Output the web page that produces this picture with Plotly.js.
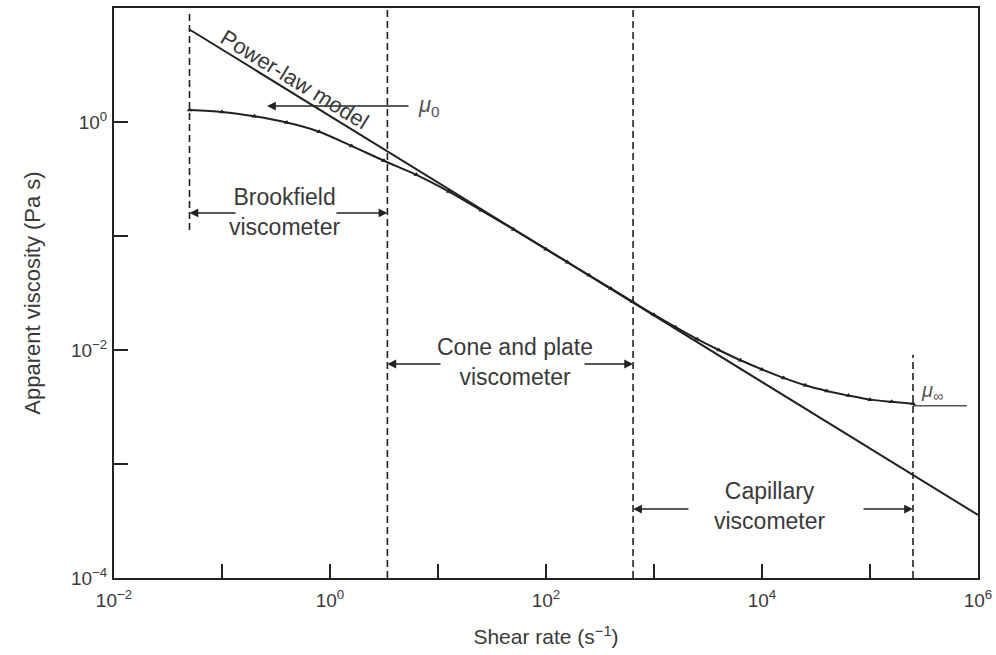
<!DOCTYPE html>
<html>
<head>
<meta charset="utf-8">
<script src="https://cdn.plot.ly/plotly-3.0.1.min.js"></script>
<style>html,body{margin:0;padding:0;background:#fff;}#chart{width:996px;height:655px;}</style>
</head>
<body>
<div id="chart"></div>
<script>
// Measured flow curve (shear rate in 1/s, apparent viscosity in Pa s)
const shearRate = [0.0501, 0.1, 0.1995, 0.398, 0.794, 1.585, 3.16, 6.31, 12.6, 25.1, 50.1, 100, 158, 251, 398, 631, 1000, 1585, 2512, 3981, 6310, 10000, 15850, 25120, 39810, 63100, 100000, 158500, 251200];
const viscosity = [1.274, 1.225, 1.122, 0.989, 0.822, 0.617, 0.457, 0.344, 0.2455, 0.168, 0.114, 0.0767, 0.0589, 0.0452, 0.0347, 0.0266, 0.0204, 0.01585, 0.01245, 0.0100, 0.00813, 0.00676, 0.00569, 0.0049, 0.00437, 0.00398, 0.00367, 0.00351, 0.00338];

// Power-law model line
const powerLawRate = [0.05, 1e6];
const powerLawVisc = [6.48, 3.57e-4];

// Infinite-shear viscosity plateau
const muInfRate = [2.5e5, 7.9e5];
const muInfVisc = [0.00325, 0.00325];

// Instrument range boundaries (shear rate)
const boundaryRates = [0.05, 3.4, 640, 2.5e5];

// Axis ticks
const xTickVals = [0.01, 1, 100, 10000, 1000000];
const xTickText = ['10<sup>−2</sup>', '10<sup>0</sup>', '10<sup>2</sup>', '10<sup>4</sup>', '10<sup>6</sup>'];
const xMinorVals = [0.1, 10, 1000, 100000];
const yTickVals = [0.0001, 0.01, 1];
const yTickText = ['10<sup>−4</sup>', '10<sup>−2</sup>', '10<sup>0</sup>'];
const yMinorVals = [0.001, 0.1];

const L = Math.log10;
const ink = '#222';
const txt = '#3a3a3a';
const FONT = 'Liberation Sans, Arial, sans-serif';

const traces = [
  {x: powerLawRate, y: powerLawVisc, mode: 'lines', line: {color: ink, width: 2}, hoverinfo: 'skip'},
  {x: shearRate, y: viscosity, mode: 'lines+markers', line: {color: ink, width: 2, shape: 'spline', smoothing: 0.8},
   marker: {symbol: 'triangle-up', size: 5, color: ink}, hoverinfo: 'skip'},
  {x: muInfRate, y: muInfVisc, mode: 'lines', line: {color: '#555', width: 1.5}, hoverinfo: 'skip'}
];

const dash = {color: ink, width: 1.6, dash: '7px,4px'};
const shapes = [
  {type: 'line', xref: 'x', yref: 'y', x0: boundaryRates[0], x1: boundaryRates[0], y0: 0.113, y1: 9.6, line: dash},
  {type: 'line', xref: 'x', yref: 'paper', x0: boundaryRates[1], x1: boundaryRates[1], y0: 0, y1: 1, line: dash},
  {type: 'line', xref: 'x', yref: 'paper', x0: boundaryRates[2], x1: boundaryRates[2], y0: 0, y1: 1, line: dash},
  {type: 'line', xref: 'x', yref: 'y', x0: boundaryRates[3], x1: boundaryRates[3], y0: 1e-4, y1: 0.0091, line: dash}
];

function arrow(headX, tailX, yLog) {
  return {xref: 'x', yref: 'y', axref: 'x', ayref: 'y', x: headX, y: yLog, ax: tailX, ay: yLog,
    text: '', showarrow: true, arrowhead: 2, arrowsize: 1.1, arrowwidth: 1.6, arrowcolor: ink, standoff: 0};
}
function label(xLog, yLog, text, opts) {
  return Object.assign({xref: 'x', yref: 'y', x: xLog, y: yLog, text: text, showarrow: false,
    font: {family: FONT, size: 23, color: txt}, align: 'center'}, opts || {});
}

const annotations = [
  arrow(-0.583, 0.741, 0.140),
  arrow(L(boundaryRates[0]), -0.861, -0.798),
  arrow(L(boundaryRates[1]), 0.046, -0.798),
  arrow(L(boundaryRates[1]), 1.037, -2.123),
  arrow(L(boundaryRates[2]), 2.343, -2.123),
  arrow(L(boundaryRates[2]), 3.333, -3.395),
  arrow(L(boundaryRates[3]), 4.926, -3.395),
  label(-0.417, -0.789, 'Brookfield<br>viscometer'),
  label(1.713, -2.105, 'Cone and plate<br>viscometer'),
  label(4.074, -3.368, 'Capillary<br>viscometer'),
  label(-0.33, 0.37, 'Power-law model', {textangle: 31.5, font: {family: FONT, size: 22, color: txt}}),
  label(0.80, 0.14, '<i>μ</i><sub>0</sub>', {xanchor: 'left', font: {family: FONT, size: 22, color: '#555'}}),
  label(5.45, -2.36, '<i>μ</i><sub>∞</sub>', {xanchor: 'left', font: {family: FONT, size: 20, color: '#555'}})
];

const axisCommon = {
  type: 'log', showgrid: false, zeroline: false,
  showline: true, linecolor: ink, linewidth: 2, mirror: true,
  ticks: 'inside', ticklen: 14, tickwidth: 2, tickcolor: ink,
  tickmode: 'array', tickfont: {family: FONT, size: 19, color: txt}
};

const layout = {
  width: 996, height: 655,
  margin: {l: 114, r: 18, t: 8, b: 77},
  paper_bgcolor: '#fff', plot_bgcolor: '#fff',
  showlegend: false,
  xaxis: Object.assign({}, axisCommon, {
    range: [-2, 6], tickvals: xTickVals, ticktext: xTickText, ticklabelstandoff: 4,
    minor: {tickmode: 'array', tickvals: xMinorVals, ticks: 'inside', ticklen: 14, tickwidth: 2, tickcolor: ink, showgrid: false},
    title: {text: 'Shear rate (s<sup>−1</sup>)', font: {family: FONT, size: 21, color: txt}, standoff: 20}
  }),
  yaxis: Object.assign({}, axisCommon, {
    range: [-4, 1], tickvals: yTickVals, ticktext: yTickText, ticklabelstandoff: 1,
    minor: {tickmode: 'array', tickvals: yMinorVals, ticks: 'inside', ticklen: 14, tickwidth: 2, tickcolor: ink, showgrid: false},
    title: {text: 'Apparent viscosity (Pa s)', font: {family: FONT, size: 22, color: txt}, standoff: 24}
  }),
  shapes: shapes,
  annotations: annotations
};

Plotly.newPlot('chart', traces, layout, {displayModeBar: false, staticPlot: true});
</script>
</body>
</html>
